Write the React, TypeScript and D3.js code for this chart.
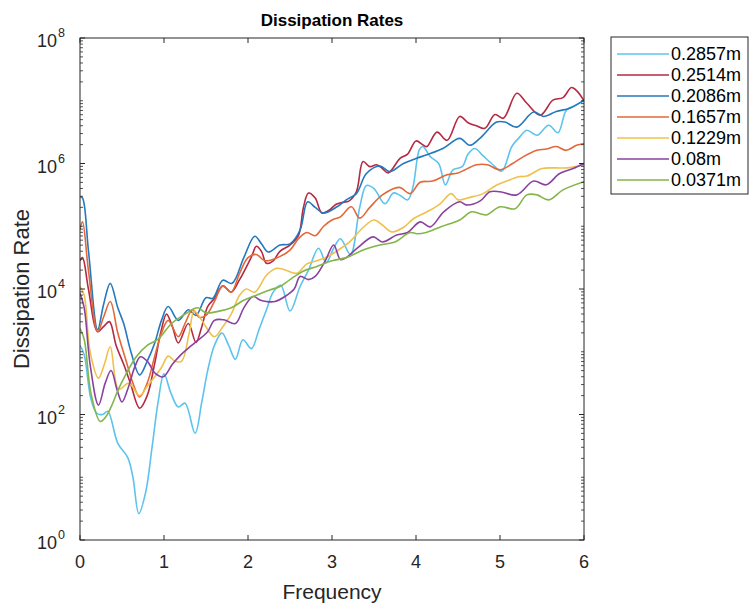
import React from 'react';
import * as d3 from 'd3';

// ---------- data ----------
const legendLabels = ['0.2857m', '0.2514m', '0.2086m', '0.1657m', '0.1229m', '0.08m', '0.0371m'];
const lineColors = ['#5cc3ee', '#b32a42', '#2379bd', '#e2683a', '#f0c04c', '#8a42a0', '#84b548'];
const xTickValues = [0, 1, 2, 3, 4, 5, 6];
const yTickExponents = [0, 2, 4, 6, 8];

// frequency and log10(dissipation rate) for each depth
const freq2857 = [0, 0.05, 0.13, 0.2, 0.27, 0.33, 0.45, 0.57, 0.63, 0.7, 0.78, 0.86, 0.93, 1.0, 1.08, 1.17, 1.25, 1.37, 1.45, 1.52, 1.6, 1.69, 1.77, 1.85, 1.94, 2.04, 2.13, 2.22, 2.3, 2.39, 2.5, 2.62, 2.72, 2.84, 2.93, 3.02, 3.1, 3.22, 3.33, 3.41, 3.5, 3.63, 3.73, 3.8, 3.9, 3.96, 4.04, 4.08, 4.17, 4.27, 4.35, 4.44, 4.55, 4.62, 4.7, 4.8, 4.9, 5.02, 5.14, 5.22, 5.32, 5.44, 5.58, 5.69, 5.79, 5.9, 6.0];
const exp2857 = [3.1, 2.95, 2.25, 2.02, 2.0, 2.05, 1.54, 1.31, 1.0, 0.42, 0.75, 1.5, 2.2, 2.65, 2.35, 2.12, 2.18, 1.7, 2.2, 2.7, 3.1, 3.3, 3.1, 2.88, 3.19, 3.05, 3.35, 3.67, 3.95, 4.06, 3.65, 4.04, 4.3, 4.65, 4.42, 4.65, 4.8, 4.55, 5.3, 5.65, 5.6, 5.36, 5.53, 5.5, 5.42, 5.6, 6.22, 6.27, 6.11, 6.0, 5.66, 5.9, 5.95, 6.15, 6.24, 6.12, 6.0, 5.88, 6.27, 6.4, 6.53, 6.45, 6.61, 6.49, 6.85, 6.93, 7.0];

const freq2514 = [0, 0.03, 0.1, 0.21, 0.28, 0.35, 0.43, 0.52, 0.6, 0.71, 0.8, 0.89, 0.96, 1.03, 1.1, 1.17, 1.29, 1.38, 1.45, 1.52, 1.6, 1.7, 1.8, 1.9, 2.04, 2.1, 2.16, 2.22, 2.3, 2.38, 2.5, 2.6, 2.66, 2.72, 2.8, 2.88, 2.96, 3.05, 3.12, 3.2, 3.29, 3.37, 3.45, 3.53, 3.6, 3.67, 3.81, 3.9, 4.0, 4.08, 4.13, 4.25, 4.37, 4.52, 4.62, 4.72, 4.82, 4.94, 5.04, 5.2, 5.32, 5.48, 5.63, 5.75, 5.85, 5.92, 6.0];
const exp2514 = [4.45, 4.5, 4.0, 3.32, 3.4, 3.48, 3.1, 2.8, 2.5, 2.1, 2.3, 2.82, 3.3, 3.6, 3.4, 3.14, 3.45, 3.15, 3.4, 3.72, 3.85, 4.05, 3.95, 4.15, 4.51, 4.68, 4.6, 4.41, 4.45, 4.6, 4.7, 4.85, 5.3, 5.53, 5.45, 5.21, 5.25, 5.35, 5.38, 5.4, 5.55, 6.03, 5.95, 5.98, 5.92, 5.85, 6.08, 6.15, 6.36, 6.3, 6.27, 6.5, 6.37, 6.75, 6.65, 6.6, 6.56, 6.78, 6.72, 7.12, 6.96, 6.77, 7.01, 7.05, 7.21, 7.15, 7.0];

const freq2086 = [0, 0.03, 0.1, 0.21, 0.28, 0.36, 0.45, 0.52, 0.61, 0.71, 0.8, 0.89, 0.97, 1.05, 1.17, 1.29, 1.38, 1.5, 1.58, 1.7, 1.81, 1.95, 2.08, 2.16, 2.24, 2.38, 2.5, 2.62, 2.71, 2.8, 2.9, 3.06, 3.17, 3.29, 3.41, 3.57, 3.69, 3.85, 4.0, 4.13, 4.32, 4.52, 4.64, 4.76, 4.96, 5.06, 5.2, 5.4, 5.52, 5.67, 5.83, 6.0];
const exp2086 = [5.47, 5.45, 4.62, 3.35, 3.75, 4.09, 3.7, 3.45, 2.98, 2.63, 2.85, 3.14, 3.5, 3.72, 3.5, 3.67, 3.58, 3.86, 3.85, 4.14, 4.09, 4.5, 4.84, 4.72, 4.59, 4.7, 4.72, 4.94, 5.39, 5.3, 5.21, 5.31, 5.42, 5.52, 5.84, 5.96, 5.87, 6.0, 6.08, 6.14, 6.24, 6.4, 6.29, 6.4, 6.66, 6.66, 6.58, 6.82, 6.75, 6.83, 6.88, 7.01];

const freq1657 = [0, 0.03, 0.1, 0.21, 0.28, 0.36, 0.45, 0.55, 0.63, 0.71, 0.8, 0.89, 0.97, 1.05, 1.17, 1.25, 1.34, 1.42, 1.5, 1.6, 1.7, 1.8, 1.9, 2.0, 2.1, 2.2, 2.35, 2.5, 2.6, 2.7, 2.8, 2.9, 3.0, 3.1, 3.23, 3.33, 3.45, 3.6, 3.8, 3.93, 4.05, 4.2, 4.37, 4.5, 4.72, 4.85, 5.0, 5.15, 5.28, 5.44, 5.55, 5.67, 5.79, 5.91, 6.0];
const exp1657 = [4.95, 5.07, 4.3, 3.32, 3.55, 3.8, 3.3, 2.85, 2.5, 2.28, 2.5, 2.93, 3.3, 3.5, 3.24, 3.45, 3.67, 3.55, 3.58, 3.8, 4.05, 3.95, 4.25, 4.5, 4.55, 4.45, 4.5, 4.62, 4.8, 4.9, 4.85, 5.0, 5.1, 5.15, 5.31, 5.13, 5.3, 5.5, 5.62, 5.52, 5.7, 5.72, 5.82, 5.85, 5.98, 5.98, 5.9, 6.0, 6.11, 6.21, 6.23, 6.27, 6.21, 6.29, 6.32];

const freq1229 = [0, 0.05, 0.12, 0.22, 0.29, 0.36, 0.46, 0.58, 0.71, 0.8, 0.89, 0.97, 1.05, 1.13, 1.21, 1.3, 1.36, 1.45, 1.6, 1.7, 1.8, 1.9, 1.98, 2.08, 2.22, 2.34, 2.45, 2.58, 2.7, 2.82, 2.94, 3.05, 3.21, 3.37, 3.5, 3.6, 3.71, 3.85, 3.97, 4.13, 4.28, 4.42, 4.5, 4.64, 4.8, 4.95, 5.08, 5.22, 5.32, 5.5, 5.65, 5.8, 6.0];
const exp1229 = [4.04, 3.9, 3.0, 2.58, 2.8, 3.08, 2.4, 2.5, 2.3, 2.45, 2.6, 2.75, 2.93, 2.85, 2.85, 3.3, 3.65, 3.5, 3.24, 3.4, 3.6, 3.9, 4.0, 3.95, 4.22, 4.33, 4.3, 4.25, 4.4, 4.45, 4.51, 4.6, 4.75, 4.98, 5.1, 5.02, 4.91, 4.98, 5.12, 5.23, 5.35, 5.52, 5.42, 5.46, 5.52, 5.65, 5.72, 5.79, 5.8, 5.92, 5.93, 5.93, 5.98];

const freq0800 = [0, 0.05, 0.12, 0.22, 0.3, 0.37, 0.44, 0.5, 0.58, 0.65, 0.72, 0.8, 0.9, 0.99, 1.1, 1.2, 1.31, 1.4, 1.52, 1.6, 1.71, 1.85, 1.95, 2.06, 2.15, 2.22, 2.32, 2.44, 2.55, 2.62, 2.72, 2.8, 2.92, 3.02, 3.1, 3.17, 3.3, 3.49, 3.6, 3.77, 3.9, 4.05, 4.17, 4.33, 4.52, 4.6, 4.76, 4.88, 5.0, 5.2, 5.4, 5.55, 5.71, 5.87, 6.0];
const exp0800 = [3.93, 3.7, 2.8, 2.15, 2.5, 2.7, 2.4, 2.2, 2.45, 2.75, 2.92, 2.85, 2.65, 2.6, 2.8, 2.95, 3.08, 3.18, 3.32, 3.5, 3.51, 3.45, 3.7, 3.88, 3.82, 3.8, 3.8, 3.88, 4.0, 4.2, 4.15, 4.2, 4.45, 4.7, 4.47, 4.5, 4.65, 4.83, 4.75, 4.86, 4.9, 5.07, 4.99, 5.23, 5.39, 5.34, 5.4, 5.55, 5.55, 5.5, 5.72, 5.66, 5.84, 5.92, 6.0];

const freq0371 = [0, 0.05, 0.13, 0.24, 0.3, 0.37, 0.45, 0.53, 0.67, 0.8, 0.93, 1.09, 1.25, 1.4, 1.5, 1.63, 1.8, 1.95, 2.1, 2.25, 2.38, 2.5, 2.65, 2.82, 3.0, 3.17, 3.37, 3.57, 3.75, 3.93, 4.01, 4.12, 4.29, 4.52, 4.66, 4.76, 4.84, 5.0, 5.18, 5.32, 5.44, 5.58, 5.75, 6.0];
const exp0371 = [3.37, 3.2, 2.34, 1.89, 1.95, 2.12, 2.38, 2.6, 2.92, 3.1, 3.2, 3.45, 3.6, 3.7, 3.62, 3.64, 3.7, 3.82, 3.9, 3.98, 4.04, 4.15, 4.28, 4.36, 4.45, 4.5, 4.62, 4.7, 4.75, 4.9, 4.88, 4.9, 4.99, 5.1, 5.23, 5.2, 5.18, 5.31, 5.28, 5.5, 5.5, 5.42, 5.58, 5.71];

const seriesFreq = [freq2857, freq2514, freq2086, freq1657, freq1229, freq0800, freq0371];
const seriesExp = [exp2857, exp2514, exp2086, exp1657, exp1229, exp0800, exp0371];

// ---------- layout ----------
const W = 755;
const H = 609;
const PL = 80, PR = 584, PT = 38, PB = 540;
const FONT = '"Liberation Sans", Arial, Helvetica, sans-serif';
const AX = '#262626';

export default function App() {
  const x = d3.scaleLinear().domain([0, 6]).range([PL, PR]);
  const y = d3.scaleLog().domain([1, 1e8]).range([PB, PT]);

  const line = d3
    .line<[number, number]>()
    .x((d) => x(d[0]))
    .y((d) => y(Math.pow(10, d[1])))
    .curve(d3.curveCatmullRom.alpha(0.5));

  const minor: number[] = [];
  for (let n = 0; n < 8; n++) {
    for (let k = 1; k <= 9; k++) {
      const v = k * Math.pow(10, n);
      if (k === 1 && n % 2 === 0) continue;
      minor.push(v);
    }
  }

  const legX = 611, legY = 37, legW = 137, legRow = 21;
  const legH = legRow * legendLabels.length + 10;

  return (
    <svg width={W} height={H} style={{ position: 'absolute', left: 0, top: 0, background: '#fff' }} fontFamily={FONT}>
      <defs>
        <clipPath id="plotclip">
          <rect x={PL} y={PT} width={PR - PL} height={PB - PT} />
        </clipPath>
      </defs>
      <rect x={0} y={0} width={W} height={H} fill="#fff" />
      <rect x={PL} y={PT} width={PR - PL} height={PB - PT} fill="#fff" />

      {/* lines */}
      <g clipPath="url(#plotclip)">
        {seriesFreq.map((fs, i) => {
          const pts = fs.map((f, j) => [f, seriesExp[i][j]] as [number, number]);
          return (
            <path key={i} d={line(pts) || ''} fill="none" stroke={lineColors[i]} strokeWidth={1.6} strokeLinejoin="round" />
          );
        })}
      </g>

      {/* axes box */}
      <rect x={PL} y={PT} width={PR - PL} height={PB - PT} fill="none" stroke={AX} strokeWidth={1} />

      {/* x ticks */}
      {xTickValues.map((t) => (
        <g key={'x' + t}>
          <line x1={x(t)} x2={x(t)} y1={PB} y2={PB - 5} stroke={AX} />
          <line x1={x(t)} x2={x(t)} y1={PT} y2={PT + 5} stroke={AX} />
          <text x={x(t)} y={PB + 28} textAnchor="middle" fontSize={18} fill={AX}>
            {t}
          </text>
        </g>
      ))}

      {/* y minor ticks */}
      {minor.map((v, i) => (
        <g key={'m' + i}>
          <line x1={PL} x2={PL + 3} y1={y(v)} y2={y(v)} stroke={AX} strokeWidth={0.8} />
          <line x1={PR} x2={PR - 3} y1={y(v)} y2={y(v)} stroke={AX} strokeWidth={0.8} />
        </g>
      ))}

      {/* y major ticks */}
      {yTickExponents.map((e) => {
        const yy = y(Math.pow(10, e));
        return (
          <g key={'y' + e}>
            <line x1={PL} x2={PL + 5} y1={yy} y2={yy} stroke={AX} />
            <line x1={PR} x2={PR - 5} y1={yy} y2={yy} stroke={AX} />
            <text x={57} y={yy + 9} textAnchor="end" fontSize={18} fill={AX}>
              10
            </text>
            <text x={58} y={yy - 1} textAnchor="start" fontSize={12.5} fill={AX}>
              {e}
            </text>
          </g>
        );
      })}

      {/* title & labels */}
      <text x={(PL + PR) / 2} y={26} textAnchor="middle" fontSize={17} fontWeight="bold" fill="#000">
        Dissipation Rates
      </text>
      <text x={(PL + PR) / 2} y={599} textAnchor="middle" fontSize={21} fill={AX}>
        Frequency
      </text>
      <text
        transform={`translate(29, ${(PT + PB) / 2}) rotate(-90)`}
        textAnchor="middle"
        fontSize={22}
        fill={AX}
      >
        Dissipation Rate
      </text>

      {/* legend */}
      <rect x={legX} y={legY} width={legW} height={legH} fill="#fff" stroke={AX} strokeWidth={1} />
      {legendLabels.map((lab, i) => {
        const yy = legY + 17 + i * legRow;
        return (
          <g key={'l' + i}>
            <line x1={legX + 6} x2={legX + 58} y1={yy} y2={yy} stroke={lineColors[i]} strokeWidth={1.6} />
            <text x={legX + 60} y={yy + 6} fontSize={18} fill="#000">
              {lab}
            </text>
          </g>
        );
      })}
    </svg>
  );
}
